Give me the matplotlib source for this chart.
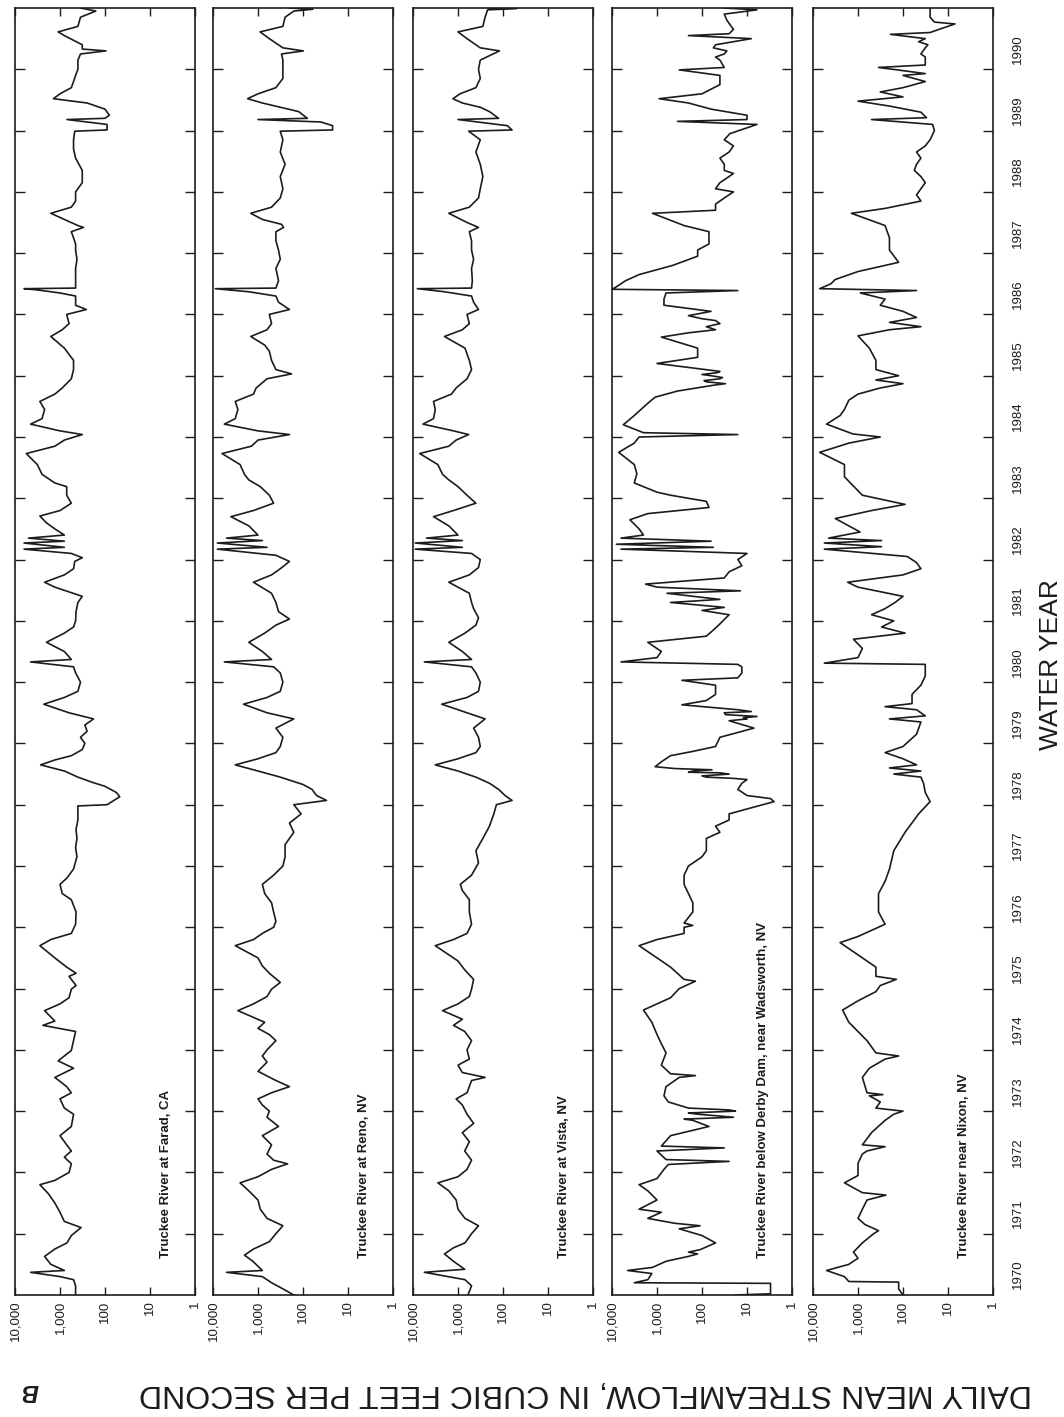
#!/usr/bin/env python3
# Daily mean streamflow, Truckee River, water years 1970-1990 (page turned sideways)

import numpy as np
import matplotlib
matplotlib.use("Agg")
import matplotlib.pyplot as plt
from matplotlib.ticker import FixedLocator, NullLocator

plt.rcParams['font.family'] = ['Liberation Sans', 'DejaVu Sans']

# (decimal year, cfs)
farad = [
    (1969.75, 450), (1969.90, 450), (1970.00, 500), (1970.05, 1000), (1970.12, 4500),
    (1970.15, 800), (1970.25, 1600), (1970.38, 2200), (1970.50, 1300), (1970.60, 700),
    (1970.72, 560), (1970.85, 340), (1970.95, 800), (1971.10, 1000), (1971.25, 1300),
    (1971.40, 1800), (1971.55, 2800), (1971.62, 1300), (1971.75, 630), (1971.89, 560),
    (1972.00, 800), (1972.10, 560), (1972.20, 710), (1972.35, 1000), (1972.50, 560),
    (1972.70, 500), (1972.80, 800), (1972.95, 1000), (1973.05, 560), (1973.15, 710),
    (1973.30, 1300), (1973.45, 500), (1973.57, 1100), (1973.74, 560), (1973.90, 500),
    (1974.05, 450), (1974.15, 2400), (1974.22, 1300), (1974.39, 2200), (1974.50, 1000),
    (1974.60, 630), (1974.74, 560), (1974.80, 440), (1974.95, 630), (1975.00, 440),
    (1975.10, 710), (1975.25, 1300), (1975.45, 2800), (1975.55, 1600), (1975.65, 560),
    (1975.80, 450), (1976.00, 440), (1976.20, 560), (1976.30, 890), (1976.45, 1000),
    (1976.55, 710), (1976.70, 500), (1976.90, 420), (1977.05, 450), (1977.20, 420),
    (1977.35, 440), (1977.50, 400), (1977.73, 400), (1977.75, 90), (1977.80, 70),
    (1977.88, 47), (1977.95, 56), (1978.05, 100), (1978.12, 200), (1978.20, 400),
    (1978.30, 800), (1978.40, 2700), (1978.48, 1300), (1978.55, 560), (1978.65, 320),
    (1978.75, 280), (1978.85, 350), (1978.95, 250), (1979.05, 280), (1979.15, 180),
    (1979.25, 630), (1979.39, 2300), (1979.50, 800), (1979.60, 400), (1979.75, 350),
    (1979.90, 450), (1980.00, 500), (1980.08, 4500), (1980.12, 560), (1980.25, 800),
    (1980.40, 2000), (1980.55, 800), (1980.65, 500), (1980.75, 450), (1980.90, 440),
    (1981.05, 400), (1981.15, 320), (1981.30, 1300), (1981.38, 2200), (1981.50, 800),
    (1981.60, 500), (1981.72, 470), (1981.78, 320), (1981.85, 560), (1981.92, 6300),
    (1981.95, 800), (1982.02, 6300), (1982.05, 800), (1982.10, 5000), (1982.15, 800),
    (1982.25, 1300), (1982.35, 2000), (1982.46, 2800), (1982.55, 1000), (1982.67, 560),
    (1982.80, 710), (1982.94, 710), (1983.00, 1300), (1983.14, 2500), (1983.30, 3200),
    (1983.48, 5600), (1983.60, 1300), (1983.70, 800), (1983.79, 320), (1983.85, 1000),
    (1983.96, 4500), (1984.05, 2500), (1984.20, 2200), (1984.33, 2800), (1984.45, 1300),
    (1984.55, 890), (1984.70, 560), (1984.85, 500), (1985.00, 500), (1985.20, 800),
    (1985.39, 1600), (1985.50, 890), (1985.60, 630), (1985.75, 710), (1985.83, 260),
    (1985.90, 450), (1986.05, 450), (1986.10, 1000), (1986.15, 3200), (1986.17, 6300),
    (1986.18, 450), (1986.30, 450), (1986.50, 450), (1986.65, 420), (1986.80, 450),
    (1986.90, 450), (1987.00, 500), (1987.10, 560), (1987.17, 300), (1987.20, 400),
    (1987.30, 800), (1987.40, 1600), (1987.50, 560), (1987.60, 450), (1987.75, 450),
    (1987.90, 320), (1988.10, 320), (1988.30, 450), (1988.45, 500), (1988.60, 500),
    (1988.74, 470), (1988.76, 90), (1988.85, 90), (1988.93, 700), (1988.95, 100),
    (1989.00, 80), (1989.10, 100), (1989.20, 250), (1989.27, 1400), (1989.35, 1000),
    (1989.45, 560), (1989.55, 500), (1989.65, 450), (1989.75, 400), (1989.90, 400),
    (1990.00, 350), (1990.05, 95), (1990.08, 320), (1990.15, 320), (1990.30, 800),
    (1990.36, 1100), (1990.45, 400), (1990.60, 350), (1990.70, 160), (1990.75, 350),
]

reno = [
    (1969.75, 160), (1969.85, 280), (1969.95, 500), (1970.05, 800), (1970.12, 5000),
    (1970.15, 800), (1970.30, 1300), (1970.40, 2000), (1970.50, 1260), (1970.62, 560),
    (1970.75, 400), (1970.88, 280), (1971.00, 630), (1971.15, 890), (1971.30, 1000),
    (1971.45, 1600), (1971.58, 2500), (1971.68, 1000), (1971.80, 500), (1971.89, 220),
    (1971.95, 450), (1972.05, 630), (1972.20, 500), (1972.35, 800), (1972.50, 350),
    (1972.65, 630), (1972.75, 560), (1972.85, 800), (1972.95, 1000), (1973.05, 500),
    (1973.15, 200), (1973.25, 400), (1973.40, 1000), (1973.55, 630), (1973.65, 800),
    (1973.75, 630), (1973.90, 400), (1974.00, 560), (1974.10, 1000), (1974.20, 710),
    (1974.39, 2800), (1974.50, 1260), (1974.62, 630), (1974.74, 500), (1974.85, 320),
    (1975.00, 560), (1975.12, 800), (1975.25, 1000), (1975.45, 3200), (1975.55, 1260),
    (1975.65, 800), (1975.75, 450), (1975.85, 400), (1976.00, 450), (1976.15, 500),
    (1976.30, 710), (1976.45, 800), (1976.60, 450), (1976.75, 280), (1976.90, 250),
    (1977.10, 250), (1977.30, 160), (1977.45, 200), (1977.60, 110), (1977.75, 160),
    (1977.82, 30), (1977.90, 50), (1978.00, 63), (1978.08, 100), (1978.20, 320),
    (1978.30, 1000), (1978.40, 3200), (1978.50, 1000), (1978.60, 400), (1978.70, 320),
    (1978.85, 280), (1979.00, 400), (1979.15, 160), (1979.25, 630), (1979.39, 2100),
    (1979.50, 630), (1979.60, 320), (1979.75, 280), (1979.90, 320), (1980.00, 450),
    (1980.08, 5600), (1980.12, 500), (1980.25, 800), (1980.40, 1600), (1980.55, 710),
    (1980.68, 400), (1980.78, 200), (1980.90, 350), (1981.05, 400), (1981.20, 500),
    (1981.38, 1260), (1981.50, 500), (1981.60, 320), (1981.72, 200), (1981.82, 400),
    (1981.92, 8000), (1981.95, 630), (1982.02, 8000), (1982.06, 800), (1982.10, 5000),
    (1982.15, 1000), (1982.30, 1600), (1982.45, 4000), (1982.55, 1260), (1982.67, 450),
    (1982.80, 560), (1982.94, 890), (1983.05, 1600), (1983.14, 2000), (1983.30, 2500),
    (1983.48, 6300), (1983.60, 1400), (1983.70, 1000), (1983.79, 200), (1983.85, 1000),
    (1983.96, 5600), (1984.05, 3200), (1984.20, 2800), (1984.33, 3200), (1984.45, 1260),
    (1984.55, 1100), (1984.70, 630), (1984.78, 180), (1984.85, 400), (1985.00, 500),
    (1985.15, 560), (1985.25, 710), (1985.39, 1450), (1985.50, 630), (1985.60, 500),
    (1985.75, 560), (1985.83, 200), (1985.95, 350), (1986.05, 400), (1986.12, 1600),
    (1986.17, 8900), (1986.18, 400), (1986.30, 350), (1986.50, 400), (1986.65, 320),
    (1986.80, 350), (1986.95, 400), (1987.10, 400), (1987.17, 270), (1987.22, 300),
    (1987.30, 800), (1987.40, 1450), (1987.50, 500), (1987.65, 320), (1987.80, 280),
    (1988.00, 320), (1988.20, 250), (1988.40, 320), (1988.60, 280), (1988.74, 320),
    (1988.76, 22), (1988.83, 22), (1988.89, 40), (1988.93, 1000), (1988.95, 80),
    (1989.06, 125), (1989.13, 320), (1989.20, 800), (1989.27, 1700), (1989.35, 1000),
    (1989.45, 400), (1989.60, 280), (1989.75, 280), (1989.90, 280), (1990.00, 300),
    (1990.05, 98), (1990.10, 280), (1990.25, 560), (1990.36, 900), (1990.45, 280),
    (1990.60, 250), (1990.70, 160), (1990.73, 60), (1990.75, 200),
]

vista = [
    (1969.75, 600), (1969.90, 500), (1970.00, 700), (1970.12, 5600), (1970.17, 710),
    (1970.30, 1260), (1970.42, 2000), (1970.52, 1260), (1970.60, 700), (1970.75, 500),
    (1970.88, 350), (1971.00, 700), (1971.15, 1000), (1971.30, 1100), (1971.45, 1600),
    (1971.58, 2800), (1971.68, 1000), (1971.80, 630), (1971.95, 500), (1972.10, 710),
    (1972.25, 560), (1972.40, 800), (1972.55, 450), (1972.70, 630), (1972.85, 800),
    (1972.95, 1100), (1973.05, 630), (1973.25, 500), (1973.30, 250), (1973.38, 800),
    (1973.50, 1000), (1973.60, 560), (1973.75, 630), (1973.90, 500), (1974.05, 710),
    (1974.15, 1260), (1974.25, 800), (1974.39, 2200), (1974.50, 1000), (1974.62, 560),
    (1974.74, 500), (1974.90, 450), (1975.05, 700), (1975.20, 1000), (1975.45, 3200),
    (1975.55, 1260), (1975.65, 630), (1975.80, 500), (1976.00, 560), (1976.20, 560),
    (1976.35, 800), (1976.45, 890), (1976.60, 500), (1976.80, 350), (1977.00, 400),
    (1977.20, 280), (1977.40, 200), (1977.60, 160), (1977.75, 140), (1977.82, 63),
    (1977.90, 90), (1978.00, 125), (1978.10, 200), (1978.20, 400), (1978.30, 1000),
    (1978.40, 3200), (1978.50, 1000), (1978.60, 400), (1978.70, 320), (1978.85, 350),
    (1979.00, 450), (1979.15, 250), (1979.25, 630), (1979.39, 2300), (1979.50, 630),
    (1979.60, 350), (1979.75, 320), (1979.90, 400), (1980.00, 500), (1980.08, 5600),
    (1980.12, 500), (1980.25, 800), (1980.40, 1600), (1980.55, 700), (1980.68, 400),
    (1980.80, 350), (1980.95, 450), (1981.05, 500), (1981.20, 560), (1981.38, 1600),
    (1981.50, 560), (1981.62, 350), (1981.75, 320), (1981.85, 500), (1981.92, 8900),
    (1981.95, 800), (1982.02, 8900), (1982.06, 800), (1982.10, 5000), (1982.15, 1000),
    (1982.30, 1600), (1982.45, 3500), (1982.55, 1260), (1982.67, 400), (1982.80, 630),
    (1982.94, 1000), (1983.05, 1600), (1983.14, 2200), (1983.30, 2800), (1983.48, 7100),
    (1983.60, 1600), (1983.70, 1100), (1983.79, 580), (1983.85, 1260), (1983.96, 6000),
    (1984.05, 3500), (1984.20, 3200), (1984.33, 3500), (1984.45, 1400), (1984.55, 1100),
    (1984.70, 630), (1984.85, 500), (1985.00, 560), (1985.20, 700), (1985.39, 2000),
    (1985.50, 800), (1985.60, 560), (1985.75, 630), (1985.83, 350), (1985.95, 450),
    (1986.05, 500), (1986.12, 2000), (1986.17, 8000), (1986.18, 500), (1986.30, 480),
    (1986.50, 500), (1986.65, 450), (1986.80, 500), (1986.95, 500), (1987.10, 560),
    (1987.17, 350), (1987.25, 630), (1987.40, 1600), (1987.50, 560), (1987.65, 350),
    (1987.80, 320), (1988.00, 280), (1988.20, 320), (1988.40, 400), (1988.60, 320),
    (1988.74, 580), (1988.76, 63), (1988.83, 80), (1988.93, 1000), (1988.95, 125),
    (1989.06, 200), (1989.13, 320), (1989.20, 800), (1989.27, 1300), (1989.35, 900),
    (1989.45, 400), (1989.60, 320), (1989.75, 350), (1989.90, 320), (1990.05, 120),
    (1990.10, 320), (1990.25, 630), (1990.36, 1000), (1990.45, 280), (1990.60, 250),
    (1990.72, 220), (1990.74, 50), (1990.75, 200),
]

derby = [
    (1969.75, 18), (1969.77, 3), (1969.90, 3), (1969.94, 3), (1969.95, 3200),
    (1970.00, 1600), (1970.10, 1300), (1970.15, 4500), (1970.20, 1260), (1970.30, 630),
    (1970.38, 200), (1970.42, 125), (1970.45, 200), (1970.49, 110), (1970.60, 50),
    (1970.72, 100), (1970.83, 320), (1970.88, 110), (1970.92, 400), (1971.00, 1600),
    (1971.10, 800), (1971.15, 2500), (1971.30, 1000), (1971.45, 1600), (1971.55, 2500),
    (1971.65, 1000), (1971.80, 700), (1971.88, 560), (1971.93, 25), (1971.96, 630),
    (1972.10, 1000), (1972.15, 32), (1972.18, 800), (1972.35, 500), (1972.50, 70),
    (1972.60, 160), (1972.62, 250), (1972.65, 20), (1972.67, 40), (1972.70, 125),
    (1972.72, 200), (1972.75, 18), (1972.77, 25), (1972.80, 200), (1972.90, 560),
    (1973.00, 700), (1973.15, 630), (1973.30, 320), (1973.33, 140), (1973.36, 500),
    (1973.50, 800), (1973.70, 630), (1973.85, 800), (1974.00, 1000), (1974.20, 1300),
    (1974.40, 2000), (1974.50, 1000), (1974.60, 500), (1974.75, 320), (1974.87, 140),
    (1974.90, 250), (1975.10, 500), (1975.25, 1000), (1975.45, 2500), (1975.55, 1000),
    (1975.65, 250), (1975.75, 250), (1975.78, 160), (1975.82, 250), (1976.00, 160),
    (1976.15, 160), (1976.30, 200), (1976.45, 250), (1976.60, 250), (1976.75, 200),
    (1976.90, 100), (1977.00, 80), (1977.20, 80), (1977.30, 40), (1977.40, 50),
    (1977.50, 25), (1977.60, 25), (1977.70, 8), (1977.80, 2.5), (1977.85, 3),
    (1977.90, 10), (1978.00, 16), (1978.10, 13), (1978.16, 10), (1978.18, 20),
    (1978.20, 80), (1978.22, 100), (1978.25, 25), (1978.27, 40), (1978.28, 200),
    (1978.30, 160), (1978.32, 60), (1978.34, 400), (1978.37, 1100), (1978.45, 800),
    (1978.55, 500), (1978.62, 160), (1978.70, 50), (1978.85, 40), (1979.00, 7),
    (1979.10, 20), (1979.12, 25), (1979.15, 10), (1979.17, 12), (1979.19, 6),
    (1979.22, 30), (1979.25, 32), (1979.27, 8), (1979.30, 16), (1979.38, 280),
    (1979.45, 80), (1979.55, 50), (1979.70, 50), (1979.78, 280), (1979.82, 16),
    (1979.90, 13), (1980.00, 13), (1980.04, 16), (1980.08, 6300), (1980.15, 1000),
    (1980.25, 800), (1980.40, 1600), (1980.50, 80), (1980.60, 56), (1980.70, 40),
    (1980.85, 25), (1980.92, 100), (1980.97, 32), (1981.05, 500), (1981.10, 40),
    (1981.20, 600), (1981.24, 14), (1981.30, 1000), (1981.35, 1800), (1981.45, 32),
    (1981.55, 25), (1981.65, 13), (1981.75, 16), (1981.85, 10), (1981.92, 6300),
    (1981.95, 56), (1982.00, 8000), (1982.05, 63), (1982.10, 6300), (1982.15, 2000),
    (1982.25, 2500), (1982.40, 4000), (1982.50, 1600), (1982.60, 70), (1982.70, 80),
    (1982.80, 500), (1982.85, 1000), (1983.00, 3200), (1983.15, 2800), (1983.30, 3200),
    (1983.50, 7100), (1983.65, 3200), (1983.75, 2500), (1983.79, 16), (1983.82, 2000),
    (1983.95, 5600), (1984.10, 3200), (1984.30, 1600), (1984.40, 1100), (1984.50, 350),
    (1984.60, 50), (1984.62, 30), (1984.65, 80), (1984.67, 90), (1984.70, 40),
    (1984.72, 35), (1984.75, 63), (1984.77, 100), (1984.80, 45), (1984.82, 40),
    (1984.95, 1000), (1985.05, 125), (1985.20, 125), (1985.38, 800), (1985.45, 200),
    (1985.50, 50), (1985.55, 80), (1985.60, 40), (1985.65, 50), (1985.68, 100),
    (1985.73, 200), (1985.80, 63), (1985.90, 700), (1986.00, 700), (1986.10, 630),
    (1986.14, 16), (1986.16, 10000), (1986.20, 8000), (1986.30, 5000), (1986.40, 2500),
    (1986.55, 450), (1986.70, 125), (1986.80, 125), (1986.90, 70), (1987.10, 70),
    (1987.20, 250), (1987.40, 1260), (1987.45, 50), (1987.55, 50), (1987.65, 32),
    (1987.75, 20), (1987.80, 50), (1987.90, 40), (1988.00, 25), (1988.05, 20),
    (1988.10, 32), (1988.20, 32), (1988.30, 40), (1988.40, 25), (1988.50, 20),
    (1988.60, 32), (1988.70, 24), (1988.85, 6), (1988.90, 350), (1988.93, 10),
    (1989.00, 10), (1989.10, 63), (1989.20, 200), (1989.27, 900), (1989.35, 100),
    (1989.50, 40), (1989.65, 40), (1989.74, 320), (1989.78, 32), (1989.90, 40),
    (1989.95, 50), (1990.00, 32), (1990.05, 28), (1990.10, 56), (1990.15, 50),
    (1990.25, 8), (1990.30, 200), (1990.33, 25), (1990.40, 20), (1990.55, 28),
    (1990.65, 32), (1990.72, 6), (1990.75, 32),
]

nixon = [
    (1969.75, 100), (1969.85, 125), (1969.96, 125), (1969.97, 1600), (1970.05, 2000),
    (1970.15, 5000), (1970.25, 1600), (1970.35, 1000), (1970.45, 1260), (1970.60, 800),
    (1970.75, 450), (1970.80, 350), (1970.90, 700), (1971.00, 1000), (1971.15, 800),
    (1971.30, 630), (1971.38, 240), (1971.42, 800), (1971.58, 2000), (1971.70, 1000),
    (1971.90, 1000), (1972.05, 800), (1972.10, 630), (1972.17, 250), (1972.20, 800),
    (1972.40, 500), (1972.60, 250), (1972.70, 160), (1972.75, 100), (1972.80, 400),
    (1972.90, 320), (1973.00, 560), (1973.02, 280), (1973.05, 630), (1973.30, 800),
    (1973.45, 560), (1973.60, 250), (1973.65, 125), (1973.70, 400), (1973.90, 630),
    (1974.05, 1000), (1974.20, 1600), (1974.40, 2200), (1974.55, 1000), (1974.70, 400),
    (1974.80, 320), (1974.90, 140), (1974.95, 400), (1975.10, 400), (1975.30, 1000),
    (1975.50, 2500), (1975.60, 1000), (1975.80, 250), (1976.00, 350), (1976.30, 350),
    (1976.50, 250), (1976.70, 200), (1977.00, 160), (1977.30, 90), (1977.60, 45),
    (1977.80, 25), (1977.95, 32), (1978.10, 35), (1978.20, 40), (1978.25, 160),
    (1978.30, 40), (1978.35, 200), (1978.40, 50), (1978.50, 100), (1978.60, 250),
    (1978.70, 100), (1978.90, 50), (1979.10, 40), (1979.15, 200), (1979.20, 32),
    (1979.30, 50), (1979.35, 250), (1979.40, 63), (1979.55, 63), (1979.70, 40),
    (1979.85, 32), (1980.00, 32), (1980.04, 32), (1980.06, 5600), (1980.15, 1000),
    (1980.30, 800), (1980.45, 1260), (1980.55, 90), (1980.65, 300), (1980.75, 160),
    (1980.85, 500), (1980.95, 250), (1981.05, 150), (1981.15, 100), (1981.30, 1000),
    (1981.38, 1700), (1981.50, 100), (1981.60, 40), (1981.70, 50), (1981.80, 80),
    (1981.92, 5600), (1981.96, 300), (1982.02, 5600), (1982.06, 300), (1982.10, 4500),
    (1982.20, 900), (1982.42, 3200), (1982.55, 500), (1982.65, 90), (1982.80, 800),
    (1982.95, 1260), (1983.10, 2000), (1983.30, 2000), (1983.50, 7100), (1983.65, 1600),
    (1983.75, 320), (1983.80, 1300), (1983.96, 5000), (1984.10, 2500), (1984.20, 2000),
    (1984.35, 1600), (1984.45, 1000), (1984.55, 320), (1984.62, 100), (1984.68, 400),
    (1984.75, 125), (1984.85, 400), (1985.00, 400), (1985.20, 560), (1985.40, 1000),
    (1985.50, 200), (1985.55, 40), (1985.62, 200), (1985.70, 50), (1985.80, 100),
    (1985.90, 320), (1986.00, 250), (1986.10, 890), (1986.14, 50), (1986.17, 7100),
    (1986.25, 4000), (1986.32, 3200), (1986.45, 1000), (1986.60, 125), (1986.80, 200),
    (1987.00, 200), (1987.20, 250), (1987.40, 1400), (1987.48, 250), (1987.60, 40),
    (1987.70, 50), (1987.80, 40), (1987.90, 32), (1988.00, 40), (1988.10, 56),
    (1988.20, 50), (1988.30, 40), (1988.40, 50), (1988.50, 32), (1988.60, 25),
    (1988.75, 20), (1988.85, 22), (1988.93, 500), (1988.96, 30), (1989.05, 40),
    (1989.15, 200), (1989.23, 1000), (1989.30, 100), (1989.38, 320), (1989.45, 100),
    (1989.55, 32), (1989.65, 100), (1989.68, 32), (1989.78, 350), (1989.82, 32),
    (1989.95, 32), (1990.00, 40), (1990.10, 32), (1990.15, 28), (1990.20, 45),
    (1990.25, 32), (1990.32, 190), (1990.35, 25), (1990.40, 16), (1990.49, 7),
    (1990.52, 20), (1990.60, 25), (1990.75, 25),
]

stations = [
    ("Truckee River at Farad, CA", farad),
    ("Truckee River at Reno, NV", reno),
    ("Truckee River at Vista, NV", vista),
    ("Truckee River below Derby Dam, near Wadsworth, NV", derby),
    ("Truckee River near Nixon, NV", nixon),
]

flow_ticks = [10000, 1000, 100, 10, 1]
flow_labels = ["10,000", "1,000", "100", "10", "1"]
water_years = list(range(1970, 1991))

W, H = 1064, 1417
fig = plt.figure(figsize=(W / 100, H / 100), dpi=100)
fig.patch.set_facecolor("white")

lefts = [15, 213, 413, 612, 813]
top_px, bot_px = 8, 1295
ink = "#1c1c1c"

# a water year runs Oct 1 to Sep 30: ticks on the boundaries, labels in the middle
boundaries = [wy - 0.25 for wy in water_years[1:]]
centers = [wy + 0.25 for wy in water_years]

for i, (name, series) in enumerate(stations):
    ax = fig.add_axes([lefts[i] / W, 1 - bot_px / H, 180 / W, (bot_px - top_px) / H])
    t, q = np.array(series).T
    ax.plot(q, t, color=ink, lw=1.2)

    ax.set_xscale("log")
    ax.set_xlim(10000, 1)
    ax.set_ylim(1969.75, 1990.75)
    ax.xaxis.set_major_locator(FixedLocator(flow_ticks))
    ax.xaxis.set_minor_locator(NullLocator())
    ax.set_xticks(flow_ticks, flow_labels)
    ax.tick_params(axis="x", which="major", direction="in", top=True, bottom=True,
                   length=6, width=1, labelsize=9.5, pad=4, labelrotation=90, colors=ink)

    ax.set_yticks(boundaries)
    ax.set_yticklabels([])
    ax.tick_params(axis="y", which="major", direction="in", left=True, right=True,
                   length=7, width=1, colors=ink)
    ax.set_yticks(centers, minor=True)
    if i == 4:
        ax.set_yticklabels([str(y) for y in water_years], minor=True)
        ax.tick_params(axis="y", which="minor", left=False, right=False, length=0,
                       labelleft=False, labelright=True, labelrotation=90,
                       labelsize=9.5, pad=14, colors=ink)
    else:
        ax.tick_params(axis="y", which="minor", left=False, right=False, length=0,
                       labelleft=False)

    for s in ax.spines.values():
        s.set_linewidth(1.2)
        s.set_color(ink)

    ax.text(4.5, 1970.35, name, rotation=90, ha="center", va="bottom",
            fontsize=9.5, fontweight="bold", color=ink)

fig.text(1051 / W, 1 - 665 / H, "WATER YEAR", rotation=90, ha="center", va="center",
         fontsize=19, color=ink)
fig.text(585 / W, 1 - 1393 / H, "DAILY MEAN STREAMFLOW, IN CUBIC FEET PER SECOND",
         rotation=180, ha="center", va="center", fontsize=23, color=ink)
fig.text(30 / W, 1 - 1390 / H, "B", rotation=180, ha="center", va="center",
         fontsize=17, fontweight="bold", fontstyle="italic", color=ink)

fig.savefig("out.png", dpi=100, facecolor="white")
